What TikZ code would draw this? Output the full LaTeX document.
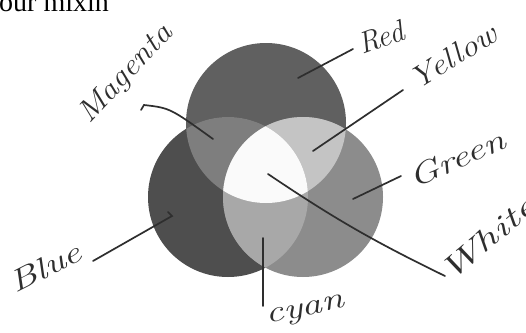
\documentclass[tikz,border=0pt]{standalone}
\usepackage{fontspec}
\usepackage{graphicx}
\newfontfamily\topfont{Liberation Serif}
\definecolor{cRed}{HTML}{606060}
\definecolor{cBlue}{HTML}{4E4E4E}
\definecolor{cGreen}{HTML}{8C8C8C}
\definecolor{cMag}{HTML}{7E7E7E}
\definecolor{cYel}{HTML}{C4C4C4}
\definecolor{cCyan}{HTML}{A8A8A8}
\definecolor{cWhite}{HTML}{FAFAFA}
\definecolor{ink}{HTML}{2E2E2E}
\tikzset{
  hand/.style={text=ink, inner sep=0pt, anchor=base west,
    font=\fontsize{30}{30}\selectfont\itshape},
  leader/.style={draw=ink, line width=1.7pt, line cap=round}
}
\begin{document}
\begin{tikzpicture}[x=1pt,y=-1pt]
\useasboundingbox (0,0) rectangle (526,332);
\fill[white] (0,0) rectangle (526,332);
% circle centres
\coordinate (R) at (266,123);
\coordinate (B) at (228,197);
\coordinate (G) at (303,197);
\def\rad{80}
% single circles
\fill[cRed] (R) circle[radius=\rad];
\fill[cBlue] (B) circle[radius=\rad];
\fill[cGreen] (G) circle[radius=\rad];
% pairwise overlaps
\begin{scope}\clip (R) circle[radius=\rad]; \fill[cMag] (B) circle[radius=\rad];\end{scope}
\begin{scope}\clip (R) circle[radius=\rad]; \fill[cYel] (G) circle[radius=\rad];\end{scope}
\begin{scope}\clip (B) circle[radius=\rad]; \fill[cCyan] (G) circle[radius=\rad];\end{scope}
% triple overlap
\begin{scope}\clip (R) circle[radius=\rad]; \clip (B) circle[radius=\rad]; \fill[cWhite] (G) circle[radius=\rad];\end{scope}

% top text
\node[anchor=base west, inner sep=0pt, font=\topfont\fontsize{28}{28}\selectfont] (title) at (-1,12) {our mixin};

% labels
\node[hand, rotate=47] (lMag) at (89,125) {\scalebox{1.13}[1]{Magenta}};
\node[hand, rotate=20] (lRed) at (362,55) {\scalebox{1.0}[1]{Red}};
\node[hand, rotate=32] (lYel) at (417,91) {\scalebox{1.15}[1]{Yellow}};
\node[hand, rotate=24] (lGre) at (414,189) {\scalebox{1.35}[1]{Green}};
\node[hand, rotate=40] (lWhi) at (450,283) {\scalebox{1.5}[1]{White}};
\node[hand, rotate=12] (lCya) at (267,324) {\scalebox{1.35}[1]{cyan}};
\node[hand, rotate=27] (lBlu) at (15,294) {\scalebox{1.35}[1]{Blue}};

% leader end points
\coordinate (mA) at (141,110);
\coordinate (mH) at (144,105);
\coordinate (mB) at (213,139);
\coordinate (rA) at (353,49);
\coordinate (rB) at (298,78);
\coordinate (yA) at (403,90);
\coordinate (yB) at (313,151);
\coordinate (gA) at (401,176);
\coordinate (gB) at (353,199);
\coordinate (wA) at (445,276);
\coordinate (wB) at (268,174);
\coordinate (cA) at (263,306);
\coordinate (cB) at (263,238);
\coordinate (bA) at (93,261);
\coordinate (bB) at (172,216);
\coordinate (bT) at (168,212);

% leaders
\draw[leader] (mA) -- (mH) .. controls (170,108) .. (mB);
\draw[leader] (rA) -- (rB);
\draw[leader] (yA) -- (yB);
\draw[leader] (gA) -- (gB);
\draw[leader] (wA) to[bend left=4] (wB);
\draw[leader] (cA) -- (cB);
\draw[leader] (bA) -- (bB) -- (bT);
\end{tikzpicture}
\end{document}
